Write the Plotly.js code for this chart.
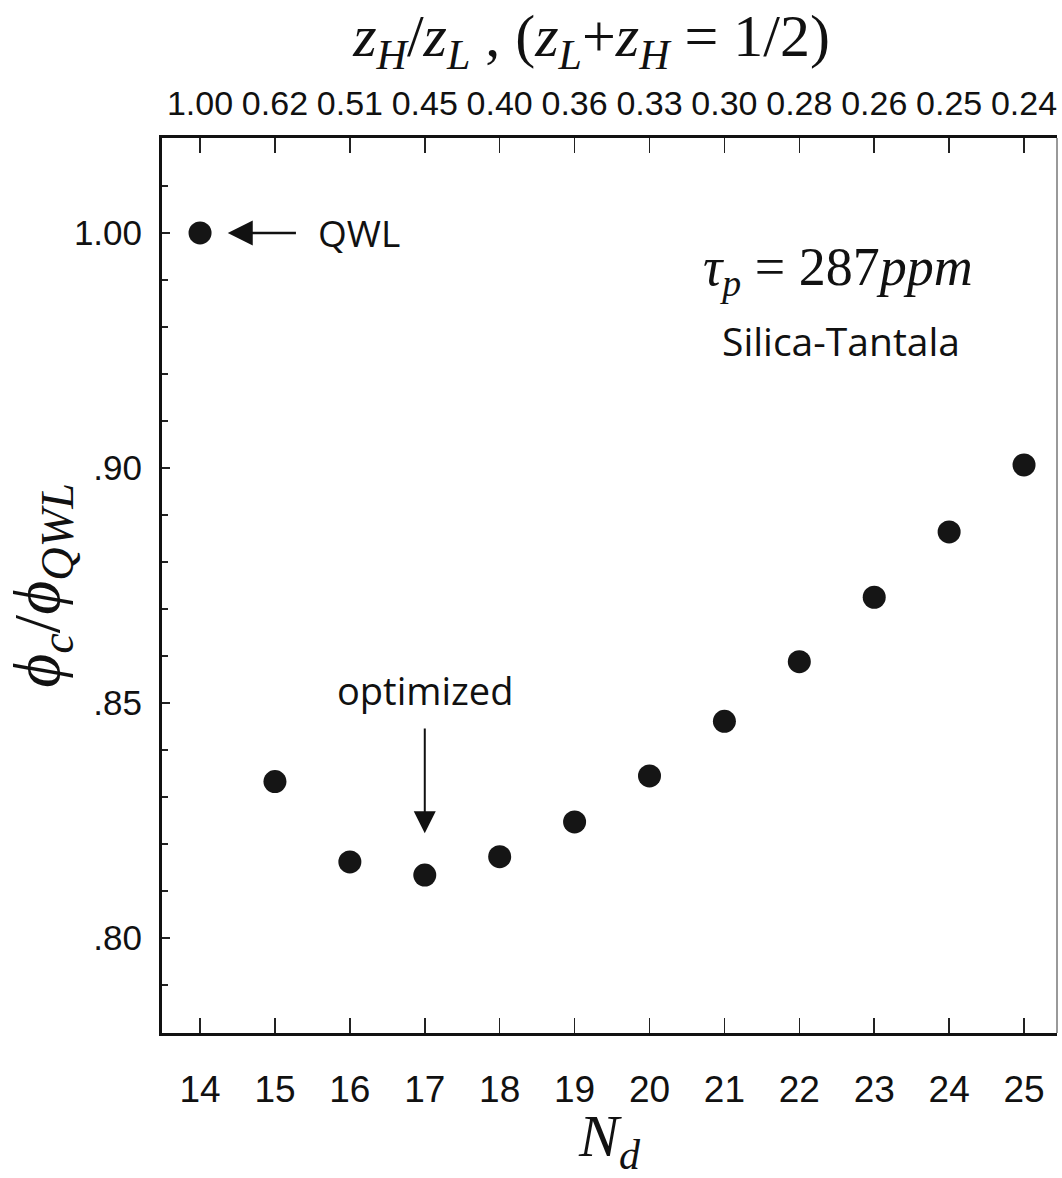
<!DOCTYPE html>
<html>
<head>
<meta charset="utf-8">
<script src="https://cdn.plot.ly/plotly-3.0.1.min.js"></script>
<style>html,body{margin:0;padding:0;background:#fff;}#chart{width:1062px;height:1178px;}</style>
</head>
<body>
<div id="chart"></div>
<script>
// ---- data ----
const Nd = [14, 15, 16, 17, 18, 19, 20, 21, 22, 23, 24, 25];
const phiRatio = [1.000, 0.8333, 0.8162, 0.8134, 0.8173, 0.8247, 0.8345, 0.8461, 0.8588, 0.8725, 0.8864, 0.9013];
const zRatioLabels = ["1.00", "0.62", "0.51", "0.45", "0.40", "0.36", "0.33", "0.30", "0.28", "0.26", "0.25", "0.24"];
const yTickValues = [0.80, 0.85, 0.90, 1.00];
const yTickLabels = [".80", ".85", ".90", "1.00"];

// broken y-axis: the segment above 0.90 is compressed by 2x (as in the original figure)
function toAxis(v) { return v <= 0.90 ? v : 0.90 + (v - 0.90) / 2; }

const sansTick = "Liberation Sans, Arial, sans-serif";
const tickFont = {family: sansTick, size: 37, color: "#111"};
const yFont = {family: sansTick, size: 35, color: "#111"};
const topFont = {family: sansTick, size: 34, color: "#111"};
const serif = "Liberation Serif, Times New Roman, serif";
const sans = "Open Sans, Noto Sans, sans-serif";

const trace = {
  x: Nd,
  y: phiRatio.map(toAxis),
  customdata: phiRatio,
  type: "scatter",
  mode: "markers",
  marker: {symbol: "circle", size: 23, color: "#151515"},
  hovertemplate: "N_d=%{x}<br>ratio=%{customdata}<extra></extra>",
  showlegend: false
};
// same points referenced on the top (z_H/z_L) axis so that axis is drawn; invisible
const traceTop = {
  x: Nd,
  y: phiRatio.map(toAxis),
  xaxis: "x2", yaxis: "y",
  type: "scatter", mode: "markers",
  marker: {size: 1, opacity: 0},
  hoverinfo: "skip", showlegend: false
};

const xr = [13.492, 25.44];
const layout = {
  width: 1062, height: 1178,
  margin: {l: 162, r: 5, t: 138, b: 145},
  paper_bgcolor: "#fff", plot_bgcolor: "#fff",
  title: {
    text: "<i>z<sub>H</sub></i>/<i>z<sub>L</sub></i> , (<i>z<sub>L</sub></i>+<i>z<sub>H</sub></i> = 1/2)",
    font: {family: serif, size: 60, color: "#111"},
    x: 0.48, xref: "paper", xanchor: "center",
    y: 0.97, yref: "container", yanchor: "middle"
  },
  xaxis: {
    range: xr, tickmode: "array", tickvals: Nd, ticktext: Nd.map(String), tickangle: 0,
    ticks: "inside", ticklen: 15, tickwidth: 1.5, tickcolor: "#222",
    showline: true, linewidth: 3, linecolor: "#111",
    showgrid: false, zeroline: false,
    tickfont: tickFont, ticklabelstandoff: 22,
    title: {text: "<i>N<sub>d</sub></i>", font: {family: serif, size: 60, color: "#111"}, standoff: 4}
  },
  xaxis2: {
    range: xr, overlaying: "x", side: "top", anchor: "y",
    tickmode: "array", tickvals: Nd, ticktext: zRatioLabels, tickangle: 0,
    ticks: "inside", ticklen: 15, tickwidth: 1.5, tickcolor: "#222",
    showline: true, linewidth: 3, linecolor: "#111",
    showgrid: false, zeroline: false,
    tickfont: topFont, ticklabelstandoff: 6
  },
  yaxis: {
    range: [0.7798, 0.9702],
    tickmode: "array", tickvals: yTickValues.map(toAxis), ticktext: yTickLabels,
    ticks: "inside", ticklen: 8, tickwidth: 1.5, tickcolor: "#222",
    minor: {tickmode: "linear", tick0: 0.80, dtick: 0.01, ticks: "inside", ticklen: 6, tickwidth: 1.5, tickcolor: "#222", showgrid: false},
    showline: true, linewidth: 3, linecolor: "#111",
    showgrid: false, zeroline: false,
    tickfont: yFont, ticklabelstandoff: 10,
    title: {text: "<i>ϕ<sub>c</sub></i>/<i>ϕ<sub>QWL</sub></i>", font: {family: serif, size: 66, color: "#111"}, standoff: 18}
  },
  shapes: [
    {type: "line", xref: "paper", yref: "paper", x0: 1, x1: 1, y0: 0, y1: 1, line: {color: "#777", width: 1.5}}
  ],
  annotations: [
    {x: 15.55, y: toAxis(1.00), xref: "x", yref: "y", text: "QWL", showarrow: false, xanchor: "left", yanchor: "middle",
     font: {family: sans, size: 37, color: "#111"}},
    {x: 14.37, y: toAxis(1.00), ax: 15.30, ay: toAxis(1.00), xref: "x", yref: "y", axref: "x", ayref: "y", text: "",
     showarrow: true, arrowhead: 2, arrowsize: 2, arrowwidth: 2.5, arrowcolor: "#111", standoff: 0},
    {x: 22.52, y: 0.9421, xref: "x", yref: "y", text: "<i>τ<sub>p</sub></i> = 287<i>ppm</i>", showarrow: false,
     xanchor: "center", yanchor: "middle", font: {family: serif, size: 54, color: "#111"}},
    {x: 22.55, y: 0.9272, xref: "x", yref: "y", text: "Silica-Tantala", showarrow: false,
     xanchor: "center", yanchor: "middle", font: {family: sans, size: 39, color: "#111"}},
    {x: 17.0, y: 0.8528, xref: "x", yref: "y", text: "optimized", showarrow: false,
     xanchor: "center", yanchor: "middle", font: {family: sans, size: 38, color: "#111"}},
    {x: 17.0, y: 0.8223, ax: 17.0, ay: 0.8449, xref: "x", yref: "y", axref: "x", ayref: "y", text: "",
     showarrow: true, arrowhead: 2, arrowsize: 2.2, arrowwidth: 2, arrowcolor: "#111", standoff: 0}
  ]
};

Plotly.newPlot("chart", [trace, traceTop], layout, {staticPlot: true, displayModeBar: false});
</script>
</body>
</html>
